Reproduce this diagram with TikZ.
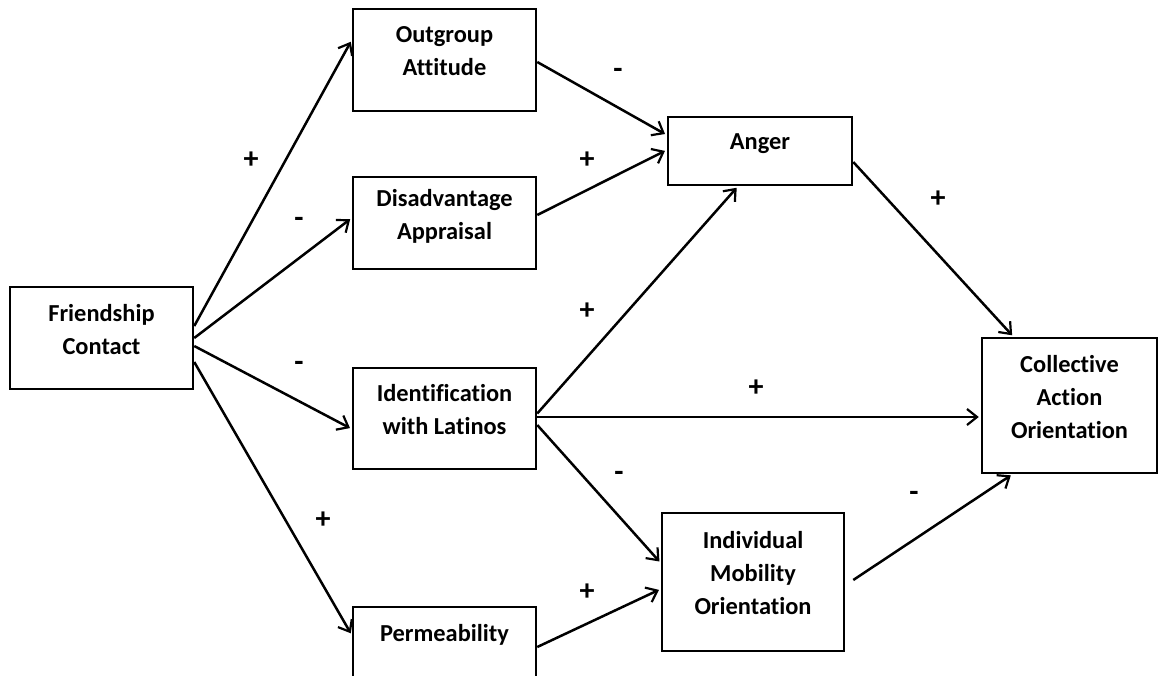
\documentclass[tikz,border=0pt]{standalone}
\usepackage{fontspec}
\setmainfont{Carlito}[Ligatures=NoCommon]
\usetikzlibrary{arrows.meta,calc}

\begin{document}
\begin{tikzpicture}[x=0.5pt,y=-0.5pt,
    box/.style={draw, line width=1.25pt, inner sep=0pt, align=center, minimum width=91.5pt, text depth=9pt, font=\fontsize{12.2}{16.5}\selectfont\bfseries},
    arr/.style={line width=1.25pt, shorten >=1pt, -{Straight Barb[length=5pt,width=8pt,line width=1.1pt]}},
    sign/.style={inner sep=0pt, font=\fontsize{15}{16}\selectfont\bfseries}]
    \useasboundingbox (0,0) rectangle (1160,675);
    % boxes
    \node[box, minimum height=51pt] (fc) at (101.5,338) {Friendship\\Contact};
    \node[box, minimum height=51pt] (og) at (444.5,60) {Outgroup\\Attitude};
    \node[box, minimum height=46pt] (da) at (444.5,223) {Disadvantage\\Appraisal};
    \node[box, minimum height=50.5pt] (il) at (444.5,418.5) {Identification\\with Latinos};
    \node[box, minimum height=35pt] (pm) at (444.5,642) {Permeability};
    \node[box, minimum height=34pt, minimum width=92pt] (ag) at (760,151) {Anger};
    \node[box, minimum height=67.5pt, minimum width=87.5pt] (ca) at (1069.5,405.5) {Collective\\Action\\Orientation};
    \node[box, minimum height=69pt, minimum width=91pt] (im) at (753,582) {Individual\\Mobility\\Orientation};
    % paths
    \draw[arr] ($(fc.east)+(0,-12)$) -- ($(og.west)+(0,-20)$);
    \draw[arr] (fc.east) -- ($(da.west)+(0,-5)$);
    \draw[arr] ($(fc.east)+(0,8)$) -- ($(il.west)+(0,10.5)$);
    \draw[arr] ($(fc.east)+(0,24)$) -- ($(pm.west)+(0,-7)$);
    \draw[arr] ($(og.east)+(0,2)$) -- ($(ag.west)+(0,-16)$);
    \draw[arr] ($(da.east)+(0,-8)$) -- ($(ag.west)+(0,-1)$);
    \draw[arr] ($(il.east)+(0,-5)$) -- ($(ag.south)+(-22,0)$);
    \draw[arr] ($(il.east)+(0,-1.5)$) -- ($(ca.west)+(0,11.5)$);
    \draw[arr] ($(il.east)+(0,6.5)$) -- ($(im.west)+(0,-19)$);
    \draw[arr] ($(pm.east)+(0,5)$) -- ($(im.west)+(0,7)$);
    \draw[arr] ($(ag.east)+(0,11)$) -- ($(ca.north)+(-56,0)$);
    \draw[arr] ($(im.east)+(8,-2)$) -- ($(ca.south)+(-57,0)$);
    % signs
    \node[sign] (s1) at (251,160) {+};
    \node[sign] (s2) at (299,222) {-};
    \node[sign] (s3) at (299,366) {-};
    \node[sign] (s4) at (323,520) {+};
    \node[sign] (s5) at (618,73) {-};
    \node[sign] (s6) at (587,160) {+};
    \node[sign] (s7) at (587,311) {+};
    \node[sign] (s8) at (756,388) {+};
    \node[sign] (s9) at (619,476) {-};
    \node[sign] (s10) at (587,592) {+};
    \node[sign] (s11) at (938,199) {+};
    \node[sign] (s12) at (914,496) {-};
\end{tikzpicture}
\end{document}
